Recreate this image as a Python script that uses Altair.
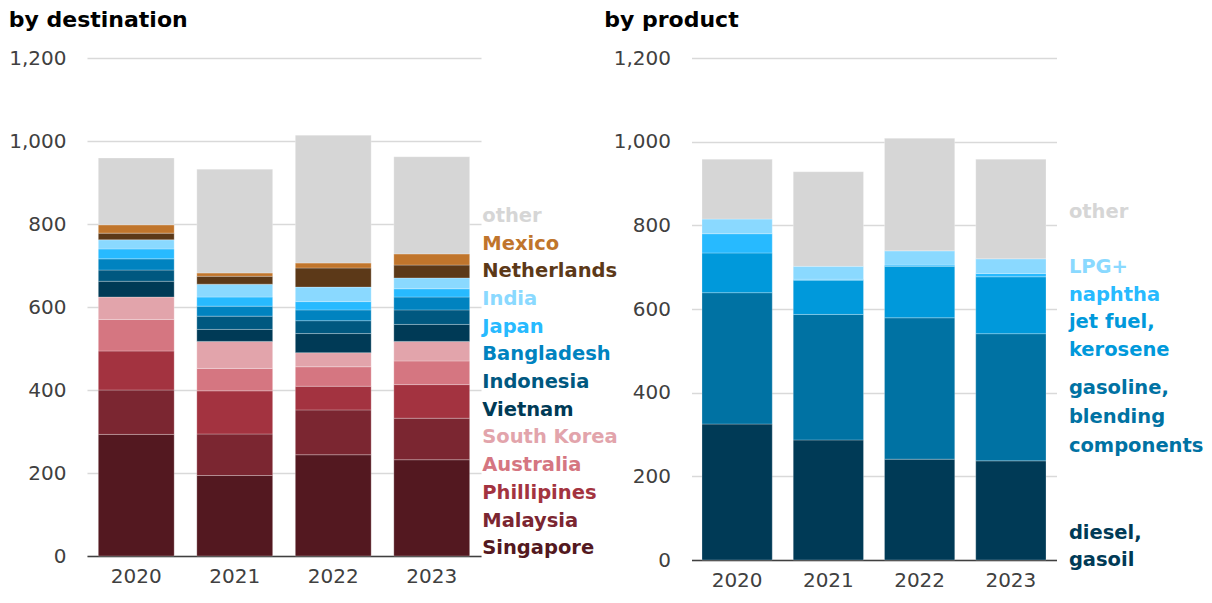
import altair as alt
import pandas as pd

# ---------------- data ----------------
years = ["2020", "2021", "2022", "2023"]

dest_names = ["Singapore", "Malaysia", "Phillipines", "Australia", "South Korea",
              "Vietnam", "Indonesia", "Bangladesh", "Japan", "India",
              "Netherlands", "Mexico", "other"]
singapore = [293, 194, 244, 232]
malaysia = [107, 100, 108, 100]
phillipines = [94, 104, 57, 81]
australia = [76, 54, 47, 57]
south_korea = [54, 65, 34, 47]
vietnam = [38, 29, 46, 41]
indonesia = [27, 32, 31, 35]
bangladesh = [27, 24, 26, 31]
japan = [24, 22, 20, 20]
india = [22, 31, 35, 26]
netherlands = [16, 19, 46, 31]
mexico = [20, 8, 12, 27]
dest_other = [161, 250, 308, 234]
dest_values = [singapore, malaysia, phillipines, australia, south_korea, vietnam,
               indonesia, bangladesh, japan, india, netherlands, mexico, dest_other]

prod_names = ["diesel, gasoil", "gasoline, blending components", "jet fuel, kerosene",
              "naphtha", "LPG+", "other"]
diesel = [325, 287, 241, 237]
gasoline = [314, 300, 338, 304]
jet_fuel = [95, 82, 123, 136]
naphtha = [46, 2, 3, 8]
lpg = [35, 31, 34, 35]
prod_other = [143, 226, 269, 238]
prod_values = [diesel, gasoline, jet_fuel, naphtha, lpg, prod_other]

prod_label_lines = [["diesel,", "gasoil"], ["gasoline,", "blending", "components"],
                    ["jet fuel,", "kerosene"], ["naphtha"], ["LPG+"], ["other"]]

y_ticks = [0, 200, 400, 600, 800, 1000, 1200]

# ---------------- styles / layout ----------------
dest_colors = ["#531820", "#7b2631", "#a33340", "#d57681", "#e2a4ab",
               "#003a56", "#005880", "#0083c0", "#27baff", "#8ad9ff",
               "#5c3918", "#c0752c", "#d6d6d6"]
prod_colors = ["#003a56", "#0072a3", "#0099db", "#27baff", "#8ad9ff", "#d6d6d6"]

FONT = "DejaVu Sans"
AXIS_COLOR = "#404040"
GRID_COLOR = "#d9d9d9"

# label baselines, in value units of each panel's y scale
left_label_start, left_label_step = 4.1, 66.75
prod_label_pos = [[50, -15], [397, 327.5, 259], [555, 487], [618], [686], [817]]


def long_table(names, values):
    rows = []
    for i, (n, vals) in enumerate(zip(names, values)):
        for y, v in zip(years, vals):
            rows.append({"year": y, "name": n, "value": v, "idx": i})
    return pd.DataFrame(rows)


def panel(df, labels, names, colors, title, w, h, dx_text, fs_text, title_dx):
    cscale = alt.Scale(domain=names, range=colors)
    xenc = alt.X("year:O",
                 scale=alt.Scale(paddingInner=0.23, paddingOuter=0.115),
                 axis=alt.Axis(title=None, labelAngle=0, labelFont=FONT,
                               labelFontSize=20, labelColor=AXIS_COLOR,
                               labelPadding=10, ticks=False, tickSize=0,
                               domainColor=AXIS_COLOR, domainWidth=1.5,
                               grid=False))
    yscale = alt.Scale(domain=[0, 1200], nice=False, zero=True)
    bars = alt.Chart(df).mark_bar(stroke="white", strokeWidth=0.5,
                                  strokeOpacity=0.5).encode(
        x=xenc,
        y=alt.Y("value:Q", stack="zero", scale=yscale,
                axis=alt.Axis(title=None, values=y_ticks, format=",.0f",
                              labelFont=FONT, labelFontSize=20,
                              labelColor=AXIS_COLOR, labelPadding=21,
                              ticks=False, tickSize=0, domain=False,
                              grid=True, gridColor=GRID_COLOR, gridWidth=1.5)),
        color=alt.Color("name:N", scale=cscale, legend=None),
        order=alt.Order("idx:Q", sort="ascending"),
    )
    text = alt.Chart(labels).mark_text(
        align="left", baseline="alphabetic", dx=dx_text, font=FONT,
        fontWeight="bold", fontSize=fs_text
    ).encode(
        x=alt.XDatum("2023", type="ordinal"),
        y=alt.Y("pos:Q", scale=yscale),
        text="line:N",
        color=alt.Color("name:N", scale=cscale, legend=None),
    )
    return alt.layer(bars, text).properties(
        width=w, height=h,
        title=alt.TitleParams(title, anchor="start", font=FONT, fontSize=22,
                              fontWeight="bold", color="#000000", offset=16,
                              dx=title_dx),
    )


dest_df = long_table(dest_names, dest_values)
prod_df = long_table(prod_names, prod_values)

dest_labels = pd.DataFrame([
    {"name": n, "line": n, "pos": left_label_start + left_label_step * k}
    for k, n in enumerate(dest_names)
])
prod_labels = pd.DataFrame([
    {"name": n, "line": ln, "pos": p}
    for n, lines, poss in zip(prod_names, prod_label_lines, prod_label_pos)
    for ln, p in zip(lines, poss)
])

left = panel(dest_df, dest_labels, dest_names, dest_colors, "by destination",
             394, 498, 50.5, 19.5, 0)
right = panel(prod_df, prod_labels, prod_names, prod_colors, "by product",
              365, 502, 58, 19.5, -9)

chart = alt.hconcat(left, right, spacing=210.5, bounds="flush").resolve_scale(
    color="independent", y="independent", x="independent"
).configure_view(stroke=None).properties(
    padding={"left": 0, "top": 1, "right": 0, "bottom": 0}
)

chart.save("out.html", embed_options={"renderer": "svg", "actions": False})
